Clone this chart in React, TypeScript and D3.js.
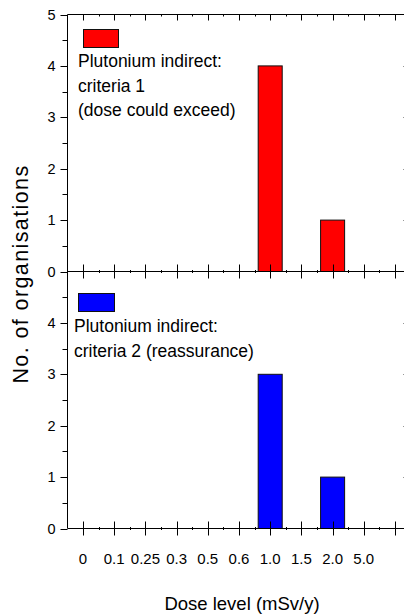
import React from 'react';
import * as d3 from 'd3';

// ---- data ----
const categories = ["0", "0.1", "0.25", "0.3", "0.5", "0.6", "1.0", "1.5", "2.0", "5.0"];
const criteria1Counts = [0, 0, 0, 0, 0, 0, 4, 0, 1, 0];
const criteria2Counts = [0, 0, 0, 0, 0, 0, 3, 0, 1, 0];
const yTicksTop = [0, 1, 2, 3, 4, 5];
const yTicksBottom = [0, 1, 2, 3, 4];
const legend1Lines = ["Plutonium indirect:", "criteria 1", "(dose could exceed)"];
const legend2Lines = ["Plutonium indirect:", "criteria 2 (reassurance)"];
const xTitle = "Dose level (mSv/y)";
const yTitle = "No. of organisations";

// ---- layout ----
const W = 404;
const H = 615;
const FONT = "'Liberation Sans', Arial, Helvetica, sans-serif";

export default function App() {
  const nSlots = categories.length + 1; // one extra unlabeled tick slot
  const x = d3.scaleLinear().domain([-0.5, nSlots - 0.5]).range([67.4, 410.6]);
  const yTop = d3.scaleLinear().domain([0, 5]).range([271.5, 14.5]);
  const yBot = d3.scaleLinear().domain([0, 5]).range([528.5, 271.5]);
  const barW = (x(1) - x(0)) * 0.77;
  const axL = Math.round(x(-0.5)) + 0.5;
  const axR = x(nSlots - 0.5);
  const px = (v: number) => Math.round(v) + 0.5;

  const majorIdx = d3.range(nSlots);
  const minorIdx = d3.range(categories.length).map((i) => i + 0.5);
  const minorY = d3.range(0.5, 5, 1);

  const stroke = "#000";

  const panel = (y: d3.ScaleLinear<number, number>, counts: number[], color: string, ticks: number[], key: string) => (
    <g key={key}>
      {counts.map((v, i) =>
        v > 0 ? (
          <rect
            key={i}
            x={x(i) - barW / 2}
            y={y(v)}
            width={barW}
            height={y(0) - y(v)}
            fill={color}
            stroke="#111"
            strokeWidth={1}
          />
        ) : null
      )}
      {ticks.map((t) => (
        <g key={"l" + t}>
          <line x1={axL - 7} x2={axL} y1={px(y(t))} y2={px(y(t))} stroke={stroke} />
          <text x={axL - 12} y={y(t) + 5} textAnchor="end" fontSize={14.5} fontFamily={FONT} fill="#000">
            {t}
          </text>
        </g>
      ))}
      {minorY.map((t) => (
        <line key={"m" + t} x1={axL - 5} x2={axL} y1={px(y(t))} y2={px(y(t))} stroke={stroke} />
      ))}
      {[1, 2, 3, 4].map((t) => (
        <line key={"r" + t} x1={axR - 7} x2={axR} y1={px(y(t))} y2={px(y(t))} stroke={stroke} />
      ))}
      {minorY.map((t) => (
        <line key={"rm" + t} x1={axR - 3} x2={axR} y1={px(y(t))} y2={px(y(t))} stroke={stroke} />
      ))}
    </g>
  );

  const hAxis = (yPos: number, up: number, down: number, minorUp: number, minorDown: number, key: string) => (
    <g key={key}>
      <line x1={axL} x2={axR} y1={yPos} y2={yPos} stroke={stroke} />
      {majorIdx.map((i) => (
        <line key={i} x1={px(x(i))} x2={px(x(i))} y1={yPos - up} y2={yPos + down} stroke={stroke} />
      ))}
      {minorIdx.map((i) => (
        <line key={"m" + i} x1={px(x(i))} x2={px(x(i))} y1={yPos - minorUp} y2={yPos + minorDown} stroke={stroke} />
      ))}
    </g>
  );

  const yTopPix = yTop(5);
  const yMid = yTop(0);
  const yBottomPix = yBot(0);

  return (
    <svg
      width={W}
      height={H}
      style={{ position: 'absolute', left: 0, top: 0, display: 'block', background: '#fff' }}
    >
      <rect x={0} y={0} width={W} height={H} fill="#fff" />
      {panel(yTop, criteria1Counts, "#ff0000", yTicksTop, "top")}
      {panel(yBot, criteria2Counts, "#0000ff", yTicksBottom, "bot")}

      <line x1={axL} x2={axL} y1={yTopPix} y2={yBottomPix} stroke={stroke} />
      {hAxis(yTopPix, 0, 6, 0, 2, "ta")}
      {hAxis(yMid, 7, 7, 1.5, 1.5, "ma")}
      {hAxis(yBottomPix, 7, 7, 1.5, 1.5, "ba")}

      {categories.map((c, i) => (
        <text key={c} x={x(i)} y={564} textAnchor="middle" fontSize={15} fontFamily={FONT} fill="#000">
          {c}
        </text>
      ))}

      <rect x={83.5} y={29.5} width={35} height={18} fill="#ff0000" stroke="#111" />
      {legend1Lines.map((l, i) => (
        <text key={"l1" + i} x={78} y={67 + i * 24.5} fontSize={17.5} fontFamily={FONT} fill="#000">
          {l}
        </text>
      ))}
      <rect x={78.5} y={293.5} width={36} height={18} fill="#0000ff" stroke="#111" />
      {legend2Lines.map((l, i) => (
        <text key={"l2" + i} x={74} y={332 + i * 24.5} fontSize={17.5} fontFamily={FONT} fill="#000">
          {l}
        </text>
      ))}

      <text x={242} y={610} textAnchor="middle" fontSize={18.5} fontFamily={FONT} fill="#000">
        {xTitle}
      </text>
      <text
        transform={`translate(28,274) rotate(-90)`}
        textAnchor="middle"
        fontSize={21.5}
        letterSpacing={1.4}
        fontFamily={FONT}
        fill="#000"
      >
        {yTitle}
      </text>
    </svg>
  );
}
